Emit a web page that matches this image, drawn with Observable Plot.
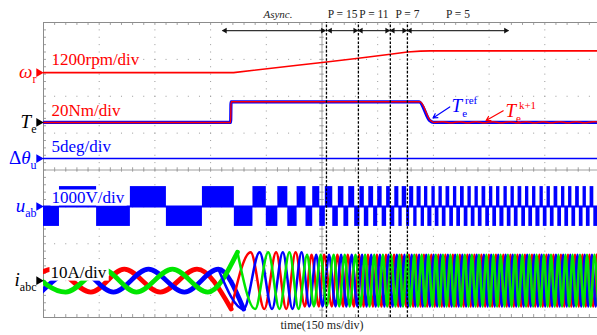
<!DOCTYPE html>
<html>
<head>
<meta charset="utf-8">
<script src="https://cdn.jsdelivr.net/npm/d3@7"></script>
<script src="https://cdn.jsdelivr.net/npm/@observablehq/plot@0.6"></script>
<style>
  html, body { margin: 0; padding: 0; background: #fff; }
  #chart svg { display: block; }
</style>
</head>
<body>
<div id="chart"></div>
<script>
// ================= DATA =================
// time in ms (150 ms / div), vertical position in divisions (8 div)
const timeGrid = [150, 300, 450, 600, 750, 900, 1050, 1200, 1350];
const divGrid = [1, 2, 3, 4, 5, 6, 7];

// channels
const chName = ["ω", "T", "Δθ", "u", "i"];
const chSub = ["r", "e", "u", "ab", "abc"];
const chColor = ["#ff0000", "#000000", "#0000ff", "#0000ff", "#000000"];
const chRef = [6.64, 5.29, 4.31, 3.01, 1.0];          // reference level (div)
const chPerDiv = [1200, 20, 5, 1000, 10];             // units per division
const chScaleLabel = ["1200rpm/div", "20Nm/div", "5deg/div", "1000V/div", "10A/div"];

// rotor speed (rpm)
const speedTime = [0, 512, 684, 762, 848, 934, 980, 1015, 1042, 1500];
const speedRpm  = [0, 0, 241, 348, 469, 599, 674, 700, 707, 707];

// torque reference and estimated torque (Nm)
const torqueRefTime = [0, 504, 505, 1012, 1040, 1050, 1500];
const torqueRefNm   = [0, 0, 11.2, 11.2, 1.0, 0, 0];
const torqueTime = [0, 504, 505, 1014, 1042, 1052, 1075, 1097, 1120, 1142, 1165, 1187, 1210, 1232, 1255, 1277, 1300, 1322, 1345, 1367, 1390, 1412, 1435, 1457, 1480, 1500];
const torqueNm   = [0, 0, 11.2, 11.2, 1.0, 0, 0.4, -0.2, 0.4, -0.2, 0.4, -0.2, 0.4, -0.2, 0.4, -0.2, 0.4, -0.2, 0.4, -0.2, 0.4, -0.2, 0.4, -0.2, 0.4, 0.1];

// voltage angle error (deg)
const angleTime = [0, 1500];
const angleDeg  = [0, 0];

// line voltage u_ab: switching instants (ms); level is ±540 V, first block negative
const uabLevel = 540;
const uabToggles = [43, 143, 234, 331, 428, 514, 564, 600, 631, 658, 683, 707, 725, 744, 759, 779, 794, 809, 822, 838,
  852, 864, 876, 889, 900, 912, 924, 934, 946, 957, 966, 978, 986, 997, 1006, 1017, 1026, 1035, 1046, 1055,
  1065, 1074, 1084, 1094, 1104, 1113, 1123, 1133, 1143, 1152, 1162, 1171, 1181, 1191, 1201, 1210, 1220, 1229,
  1240, 1249, 1259, 1268, 1278, 1288, 1298, 1307, 1317, 1326, 1337, 1346, 1356, 1365, 1375, 1385, 1395, 1404,
  1414, 1423, 1433, 1443, 1453, 1462, 1472, 1482, 1492];

// phase current amplitude (A) from the given time on
const iAmpFrom = [0, 505, 700];
const iAmpA    = [3.1, 7.7, 7.0];
// phase current colours (a, b, c) and position of the phase extremum inside each voltage half cycle
const iColor = ["#ff0000", "#0000ff", "#00e600"];
const iLagFrac = [-0.17, 0.5, 0.167];
const iSign = [1, 1, -1];

// operating modes
const modeName = ["Async.", "P = 15", "P = 11", "P = 7", "P = 5"];
const modeFrom = [482, 765, 848, 934, 980];
const modeTo   = [759, 846, 932, 978, 1252];
const modeSwitch = [762, 848, 934, 980];

// torque annotations
const annName  = ["ref", "k+1"];
const annColor = ["#0000ff", "#ff0000"];
const annTextT = [1099, 1244];   // ms
const annTextNm = [5.4, 2.7];    // Nm
const annTailT = [1094, 1238];
const annTailNm = [8.4, 6.3];
const annHeadT = [1049, 1192];
const annHeadNm = [2.4, 1.0];

// ================= BUILD TABLES =================
const idx5 = d3.range(5);
const speed = speedTime.map((t, k) => ({t, y: chRef[0] + speedRpm[k] / chPerDiv[0]}));
const torqueRef = torqueRefTime.map((t, k) => ({t, y: chRef[1] + torqueRefNm[k] / chPerDiv[1]}));
const torque = torqueTime.map((t, k) => ({t, y: chRef[1] + torqueNm[k] / chPerDiv[1]}));
const angle = angleTime.map((t, k) => ({t, y: chRef[2] + angleDeg[k] / chPerDiv[2]}));

const uabEdges = [0, ...uabToggles, 1500];
const uabBlocks = d3.pairs(uabEdges).map(([a, b], k) => ({
  t1: a, t2: b, y1: chRef[3], y2: chRef[3] + (k % 2 === 0 ? -uabLevel : uabLevel) / chPerDiv[3]
}));

const ampAt = t => iAmpA[Math.max(0, d3.bisectRight(iAmpFrom, t) - 1)];
const cyc = [2 * uabToggles[0] - uabToggles[1], ...uabToggles, 2 * uabToggles.at(-1) - uabToggles.at(-2)];
const currents = [];
for (let p = 0; p < 3; p++) {
  d3.pairs(cyc).forEach(([t0, t1], k) => {
    const t = t0 + iLagFrac[p] * (t1 - t0);
    const s = (k % 2 === 0 ? -1 : 1) * iSign[p];
    currents.push({p, t, y: chRef[4] + s * ampAt(t) / chPerDiv[4]});
  });
}
const curEarly = currents.filter(d => d.t <= 540);
const curLate = currents.filter(d => d.t >= 470);

const minorT = d3.range(0, 1500, 30);
const minorD = d3.range(0, 8, 0.2);
const modeIdx = d3.range(modeName.length);

const serif = "'Liberation Serif', 'Times New Roman', serif";

// ================= PLOT =================
const plot = Plot.plot({
  width: 597, height: 335,
  marginLeft: 43, marginRight: -3, marginTop: 22, marginBottom: 18,
  x: {domain: [0, 1500], axis: null},
  y: {domain: [0, 8], axis: null},
  style: {fontFamily: serif, background: "#fff", overflow: "visible"},
  marks: [
    // grid
    Plot.ruleX(timeGrid, {y1: 8, y2: 0, stroke: "#9a9a9a", strokeDasharray: "1,6.375"}),
    Plot.ruleY(divGrid, {x1: 0, x2: 1500, stroke: "#9a9a9a", strokeDasharray: "1,10.14"}),
    Plot.ruleX([750], {y1: 0, y2: 8, stroke: "#a0a0a0"}),
    Plot.ruleY([4], {x1: 0, x2: 1500, stroke: "#a0a0a0"}),
    Plot.ruleX(minorT, {y1: 3.94, y2: 4.06, stroke: "#a0a0a0"}),
    Plot.ruleY(minorD, {x1: 744, x2: 756, stroke: "#a0a0a0"}),
    Plot.ruleX(minorT, {y1: 8, y2: 7.92, stroke: "#a0a0a0"}),
    Plot.ruleX(minorT, {y1: 0, y2: 0.08, stroke: "#a0a0a0"}),
    Plot.ruleY(minorD, {x1: 0, x2: 8, stroke: "#a0a0a0"}),
    Plot.frame({stroke: "#8c8c8c"}),

    // u_ab
    Plot.ruleY([chRef[3]], {x1: 0, x2: 1500, stroke: "#0000ff", strokeWidth: 2}),
    Plot.rect(uabBlocks, {x1: "t1", x2: "t2", y1: "y1", y2: "y2", fill: "#0000ff", clip: true}),

    // phase currents
    ...[0, 1, 2].map(p => Plot.line(curEarly.filter(d => d.p === p), {x: "t", y: "y", stroke: iColor[p], strokeWidth: 4.8, curve: "monotone-x", clip: true})),
    ...[0, 1, 2].map(p => Plot.line(curLate.filter(d => d.p === p), {x: "t", y: "y", stroke: iColor[p], strokeWidth: 2.5, curve: "monotone-x", clip: true})),

    // speed, torque, angle
    Plot.line(speed, {x: "t", y: "y", stroke: "#ff0000", strokeWidth: 1.6, clip: true}),
    Plot.line(torqueRef, {x: "t", y: "y", stroke: "#0000ff", strokeWidth: 3.2, curve: "monotone-x", clip: true}),
    Plot.line(torque, {x: "t", y: "y", stroke: "#ff0000", strokeWidth: 1.4, curve: "monotone-x", clip: true}),
    Plot.line(angle, {x: "t", y: "y", stroke: "#0000ff", strokeWidth: 1.6, clip: true}),

    // mode switching instants
    Plot.ruleX(modeSwitch, {y1: 0, y2: 8, stroke: "#000", strokeWidth: 1.3, strokeDasharray: "2.6,1.6"}),
    // mode arrows
    Plot.link(modeIdx, {x1: i => modeFrom[i], x2: i => modeTo[i], y1: 7.78, y2: 7.78, stroke: "#333", strokeWidth: 1.2}),
    Plot.dot(modeIdx, {x: i => modeFrom[i], y: 7.78, symbol: "triangle", rotate: -90, r: 2.1, fill: "#111", dx: 2.6}),
    Plot.dot(modeIdx, {x: i => modeTo[i], y: 7.78, symbol: "triangle", rotate: 90, r: 2.1, fill: "#111", dx: -2.6}),
    Plot.text(modeIdx.filter(i => i === 0), {x: i => (modeFrom[i] + modeTo[i]) / 2, frameAnchor: "top", text: i => modeName[i], lineAnchor: "bottom", dy: -5, dx: 4, fontSize: 11, fontStyle: "italic", fill: "#222"}),
    Plot.text(modeIdx.filter(i => i === 1 || i === 2 || i === 4), {x: i => (modeFrom[i] + modeTo[i]) / 2, frameAnchor: "top", text: i => modeName[i], lineAnchor: "bottom", dy: -5, fontSize: 11.5, fill: "#222"}),
    Plot.text(modeIdx.filter(i => i === 3), {x: i => (modeFrom[i] + modeTo[i]) / 2, frameAnchor: "top", text: i => modeName[i], lineAnchor: "bottom", dy: -5, dx: 9, fontSize: 11.5, fill: "#222"}),

    // scale labels
    Plot.text([0], {frameAnchor: "left", y: i => chRef[i], text: i => chScaleLabel[i], textAnchor: "start", lineAnchor: "bottom", dx: 8, dy: -8, fontSize: 17, fill: "#ff0000"}),
    Plot.text([1], {frameAnchor: "left", y: i => chRef[i], text: i => chScaleLabel[i], textAnchor: "start", lineAnchor: "bottom", dx: 8, dy: -6, fontSize: 17, fill: "#ff0000"}),
    Plot.text([2], {frameAnchor: "left", y: i => chRef[i], text: i => chScaleLabel[i], textAnchor: "start", lineAnchor: "bottom", dx: 8, dy: -7, fontSize: 17, fill: "#0000ff"}),
    Plot.text([3], {frameAnchor: "left", y: i => chRef[i], text: i => chScaleLabel[i], textAnchor: "start", lineAnchor: "bottom", dx: 8, dy: -4, fontSize: 17, fill: "#0000ff", ariaDescription: "boxed"}),
    Plot.text([4], {frameAnchor: "left", y: i => chRef[i], text: i => chScaleLabel[i], textAnchor: "start", lineAnchor: "bottom", dx: 7, dy: -3, fontSize: 17, fill: "#000", ariaDescription: "boxed"}),

    // channel markers and names
    Plot.dot(idx5, {frameAnchor: "left", y: i => chRef[i], symbol: "triangle", rotate: 90, r: 3.2, fill: i => chColor[i], dx: -4.7}),
    Plot.text(idx5, {frameAnchor: "left", y: i => chRef[i], text: i => chName[i], textAnchor: "end", lineAnchor: "bottom", dx: -7, dy: 5.5, fontSize: 19, fontStyle: "italic", fill: i => chColor[i], ariaDescription: "chname"}),

    // torque annotations
    Plot.arrow([0, 1], {x1: i => annTailT[i], y1: i => chRef[1] + annTailNm[i] / chPerDiv[1], x2: i => annHeadT[i], y2: i => chRef[1] + annHeadNm[i] / chPerDiv[1], stroke: i => annColor[i], strokeWidth: 1.2, headLength: 6}),
    Plot.text([0, 1], {x: i => annTextT[i], y: i => chRef[1] + annTextNm[i] / chPerDiv[1], text: () => "T", textAnchor: "start", lineAnchor: "bottom", fontSize: 19, fontStyle: "italic", fill: i => annColor[i], ariaDescription: "ann"}),

    // time base
    Plot.text([0], {x: 750, frameAnchor: "bottom", text: () => "time(150 ms/div)", lineAnchor: "top", dy: 3, fontSize: 12, fill: "#222"})
  ]
});

document.getElementById("chart").appendChild(plot);
const svg = d3.select(plot);

// sub/superscripts of channel names
svg.selectAll('g[aria-description="chname"] text').each(function (d, j) {
  const i = typeof d === "number" ? d : j;
  const t = d3.select(this);
  const name = chName[i];
  t.text(null);
  if (name.startsWith("Δ")) {
    t.append("tspan").attr("font-style", "normal").text("Δ");
    t.append("tspan").text(name.slice(1));
  } else {
    t.append("tspan").text(name);
  }
  t.append("tspan").attr("font-style", "normal").attr("font-size", 12).attr("dy", 5).text(chSub[i]);
});

// torque annotation sub/superscripts
svg.selectAll('g[aria-description="ann"] text').each(function (d, j) {
  const i = typeof d === "number" ? d : j;
  const t = d3.select(this);
  t.append("tspan").attr("font-style", "normal").attr("font-size", 11).attr("dy", 5).text("e");
  t.append("tspan").attr("font-style", "normal").attr("font-size", 11).attr("dx", -2).attr("dy", -13).text(annName[i]);
});

// white boxes behind scale labels that sit on waveforms
svg.selectAll('g[aria-description="boxed"] text').each(function () {
  const b = this.getBBox();
  const tr = this.getAttribute("transform");
  const r = d3.select(this.parentNode).insert("rect", "text")
    .attr("x", b.x - 1).attr("y", b.y + 2).attr("width", b.width + 3).attr("height", b.height - 3)
    .attr("fill", "#fff");
  if (tr) r.attr("transform", tr);
});
</script>
</body>
</html>
